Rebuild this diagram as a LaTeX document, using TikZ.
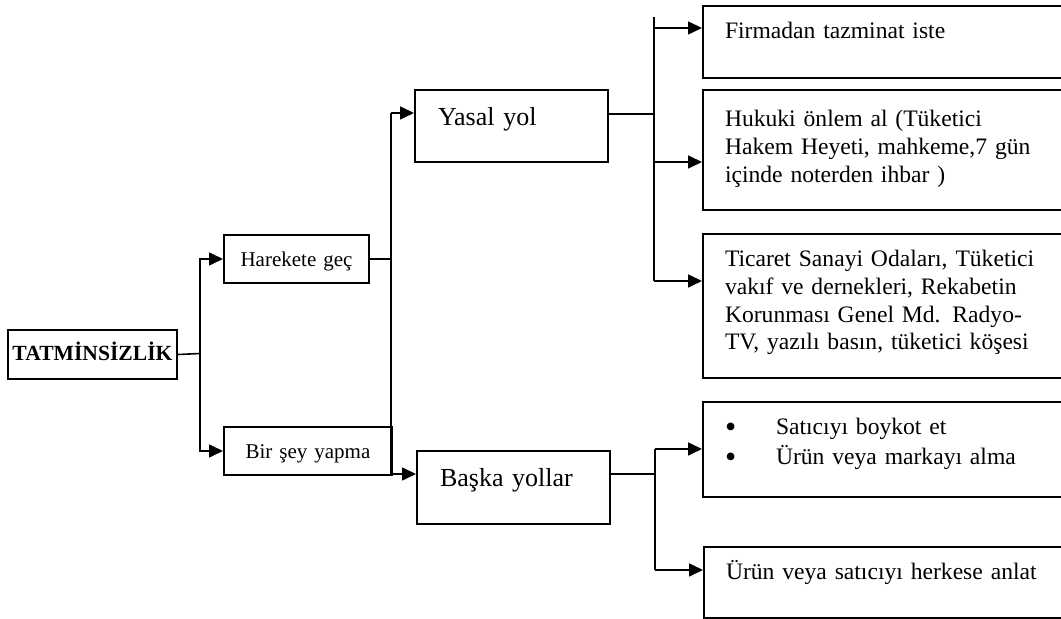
\documentclass[tikz,border=0pt]{standalone}
\usepackage{fontspec}
\setmainfont{Liberation Serif}
\usepackage{tikz}
\usetikzlibrary{arrows.meta}
\tikzset{
  rootbox/.style={rectangle, draw, line width=1pt, anchor=north west, inner xsep=0pt,
                  inner ysep=8.5pt, text width=84.5pt, text height=7pt, text depth=0.5pt,
                  align=center, font=\fontsize{10.8}{12}\selectfont\bfseries},
  smallbox/.style={rectangle, draw, line width=1pt, anchor=north west, inner xsep=0pt,
                   inner ysep=8.25pt, text height=7.5pt, text depth=0pt,
                   align=center, font=\fontsize{10.5}{12.5}\selectfont},
  bigbox/.style={rectangle, draw, line width=1pt, anchor=north west, inner xsep=11.5pt,
                 inner ysep=9pt, text width=73.5pt, text height=9pt,
                 align=left, font=\fontsize{13}{15}\selectfont},
  txtbox/.style={rectangle, draw, line width=1pt, anchor=north west, inner xsep=11pt,
                 inner ysep=8.5pt, text width=167pt, text height=8pt,
                 align=left, font=\fontsize{11.8}{13.8}\selectfont},
  line/.style={line width=0.8pt},
  arrow/.style={line width=0.8pt, -{Triangle[length=7pt, width=6.5pt]}},
}
\newcommand{\madde}{\makebox[25.5pt][l]{\raisebox{-1.5pt}{\fontsize{16}{15}\selectfont\textbullet}}}

\begin{document}
\begin{tikzpicture}[x=0.5pt, y=-0.5pt]
  \useasboundingbox (0,0) rectangle (1061,619);

  % Left part
  \node[rootbox] (tat) at (7,329) {TATMİNSİZLİK};
  \node[smallbox, text width=72.5pt] (harekete) at (223,234) {Harekete geç};
  \node[smallbox, text width=84pt] (birsey) at (223,426) {Bir şey yapma};

  % Middle
  \node[bigbox, text depth=9pt] (yasal) at (414,89) {Yasal yol};
  \node[bigbox, text depth=9.5pt] (baska) at (416,450) {Başka yollar};

  % Right boxes (cut off by the page edge)
  \node[txtbox, text depth=11pt] (firma) at (702,5) {Firmadan tazminat iste};
  \node[txtbox, text height=10pt, text depth=33pt] (hukuk) at (702,89)
    {Hukuki önlem al (Tüketici\\Hakem Heyeti, mahkeme,7 gün\\içinde noterden ihbar )};
  \node[txtbox, text depth=47pt] (ticaret) at (702,233)
    {Ticaret Sanayi Odaları, Tüketici\\vakıf ve dernekleri, Rekabetin\\Korunması Genel Md. Radyo-\\TV, yazılı basın, tüketici köşesi};
  \node[txtbox, text depth=22.5pt, font=\fontsize{11.8}{15}\selectfont] (boykot) at (702,401)
    {\madde Satıcıyı boykot et\\\madde Ürün veya markayı alma};
  \node[txtbox, text depth=10.5pt] (anlat) at (703,546) {Ürün veya satıcıyı herkese anlat};

  % Junction points
  \coordinate (j1) at (200,353.5);
  \coordinate (j2) at (391,113);
  \coordinate (j3) at (391,474);
  \coordinate (yin) at (654,114);
  \coordinate (ytop) at (654,17);
  \coordinate (y1) at (654,28);
  \coordinate (y2) at (654,162);
  \coordinate (ybot) at (654,281);
  \coordinate (bin) at (655,474);
  \coordinate (btop) at (655,449);
  \coordinate (bbot) at (655,570);

  % Connections
  \draw[line] (tat.east) -- (j1);
  \draw[arrow] (j1) |- (harekete.west);
  \draw[arrow] (j1) |- (birsey.west);
  \draw[line] (harekete.east) -- (harekete.east -| j2);
  \draw[line] (j2) -- (j3);
  \draw[arrow] (j2) -- (j2 -| yasal.west);
  \draw[arrow] (j3) -- (j3 -| baska.west);

  \draw[line] (yin -| yasal.east) -- (yin);
  \draw[line] (ytop) -- (ybot);
  \draw[arrow] (y1) -- (y1 -| firma.west);
  \draw[arrow] (y2) -- (y2 -| hukuk.west);
  \draw[arrow] (ybot) -- (ybot -| ticaret.west);

  \draw[line] (bin -| baska.east) -- (bin);
  \draw[line] (btop) -- (bbot);
  \draw[arrow] (btop) -- (btop -| boykot.west);
  \draw[arrow] (bbot) -- (bbot -| anlat.west);

\end{tikzpicture}
\end{document}
